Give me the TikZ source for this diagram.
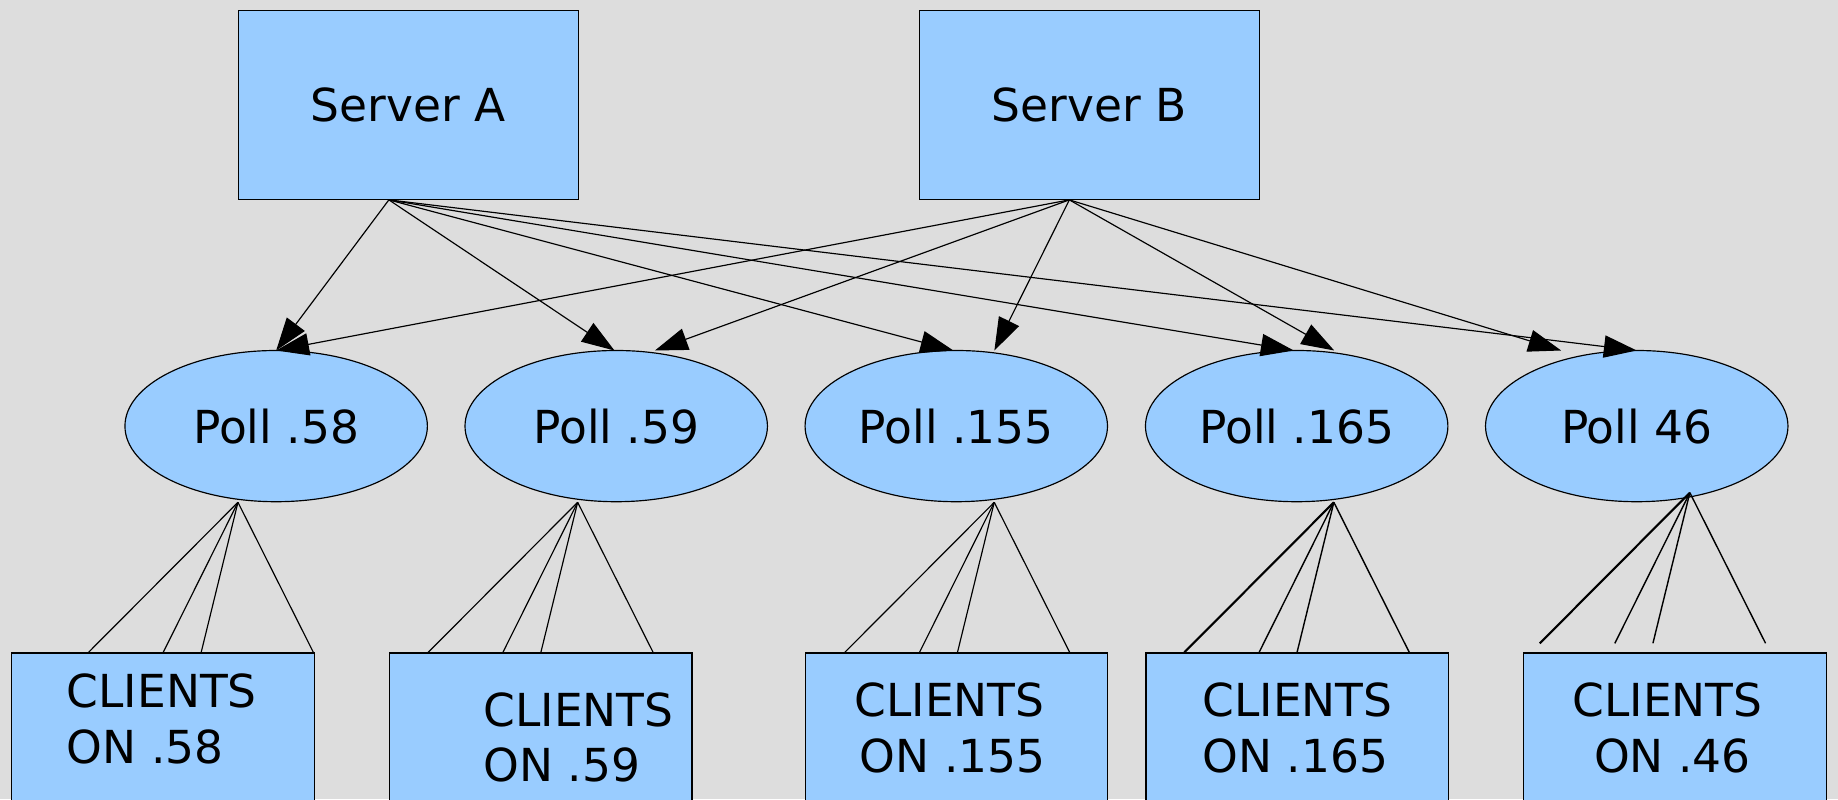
\documentclass[tikz,border=0pt]{standalone}
\usepackage{fontspec}
\setmainfont{DejaVu Sans}
\usetikzlibrary{arrows.meta,calc,shapes.geometric}
\definecolor{bg}{HTML}{DDDDDD}
\definecolor{boxfill}{HTML}{99CCFF}
\begin{document}
\begin{tikzpicture}[x=0.5pt,y=-0.5pt,
  every node/.style={font=\fontsize{19.4pt}{23pt}\selectfont, inner sep=0pt, outer sep=0pt},
  server/.style={draw=black, line width=0.5pt, fill=boxfill, rectangle, minimum width=145pt, minimum height=80.5pt},
  poll/.style={draw=black, line width=0.5pt, fill=boxfill, ellipse, minimum width=129pt, minimum height=64.5pt},
  clientbox/.style={draw=black, line width=0.5pt, fill=boxfill, rectangle, minimum width=129pt, minimum height=80pt},
  txt/.style={anchor=base west},
  link/.style={line width=0.5pt, -{Triangle[length=14pt,width=9.5pt]}},
  wire/.style={line width=0.5pt}
]
\clip (0,0) rectangle (1568,682);
\fill[bg] (0,0) rectangle (1568,682);

% servers
\node[server] (A) at (348.25,89.4) {Server A};
\node[server] (B) at (929.25,89.4) {Server B};

% polls
\node[poll] (p1) at (235.6,363.5) {Poll .58};
\node[poll] (p2) at (525.7,363.5) {Poll .59};
\node[poll] (p3) at (815.8,363.5) {Poll .155};
\node[poll] (p4) at (1106.2,363.5) {Poll .165};
\node[poll] (p5) at (1396.3,363.5) {Poll 46};

% client boxes
\node[clientbox] (c1) at (139,637) {};
\node[clientbox] (c2) at (461.3,637) {};
\node[clientbox] (c3) at (816,637) {};
\node[clientbox] (c4) at (1106.6,637) {};
\node[clientbox] (c5) at (1429,637) {};

\node[txt] (t1a) at (57,603.7) {CLIENTS};
\node[txt] (t1b) at (57,651) {ON .58};
\node[txt] (t2a) at (412.5,620) {CLIENTS};
\node[txt] (t2b) at (412.5,667) {ON .59};
\node[txt] (t3a) at (729,611.5) {CLIENTS};
\node[txt] (t3b) at (733.6,659) {ON .155};
\node[txt] (t4a) at (1026,611.5) {CLIENTS};
\node[txt] (t4b) at (1026,659) {ON .165};
\node[txt] (t5a) at (1341.6,611.5) {CLIENTS};
\node[txt] (t5b) at (1360,659) {ON .46};

% edge origins
\coordinate (aO) at ($(A.south)+(-16.5,0.6)$);
\coordinate (bO) at ($(B.south)+(-17,0.6)$);

% arrows from Server A
\draw[link] (aO) -- (p1.north);
\draw[link] (aO) -- ($(p2.north)+(-1.5,0)$);
\draw[link] (aO) -- ($(p3.north)+(-2.5,0)$);
\draw[link] (aO) -- ($(p4.north)+(-2.5,0)$);
\draw[link] (aO) -- (p5.north);

% arrows from Server B
\draw[link] (bO) -- (p1.north);
\draw[link] (bO) -- ($(p2.north)+(33,0)$);
\draw[link] (bO) -- ($(p3.north)+(32.5,0)$);
\draw[link] (bO) -- ($(p4.north)+(32,0)$);
\draw[link] (bO) -- ($(p5.north)+(-64.5,0)$);

% fan origins on polls
\coordinate (o1) at ($(p1.south)+(-32.6,0.5)$);
\coordinate (o2) at ($(p2.south)+(-32.9,0.5)$);
\coordinate (o3) at ($(p3.south)+(32.4,0.5)$);
\coordinate (o4) at ($(p4.south)+(31.7,0.5)$);
\coordinate (o5) at ($(p5.south)+(45.3,-7.7)$);

\foreach \i in {1,2,3}{
  \foreach \dx in {-128,-64,-31.5,64.6}{
    \draw[wire] (o\i) -- ($(o\i)+(\dx,128.5)$);
  }
}
\foreach \i in {4,5}{
  \draw[wire, line width=0.9pt] (o\i) -- ($(o\i)+(-128,128.5)$);
  \foreach \dx in {-64,-31.5,64.6}{
    \draw[wire, line width=0.6pt] (o\i) -- ($(o\i)+(\dx,128.5)$);
  }
}
\end{tikzpicture}
\end{document}
